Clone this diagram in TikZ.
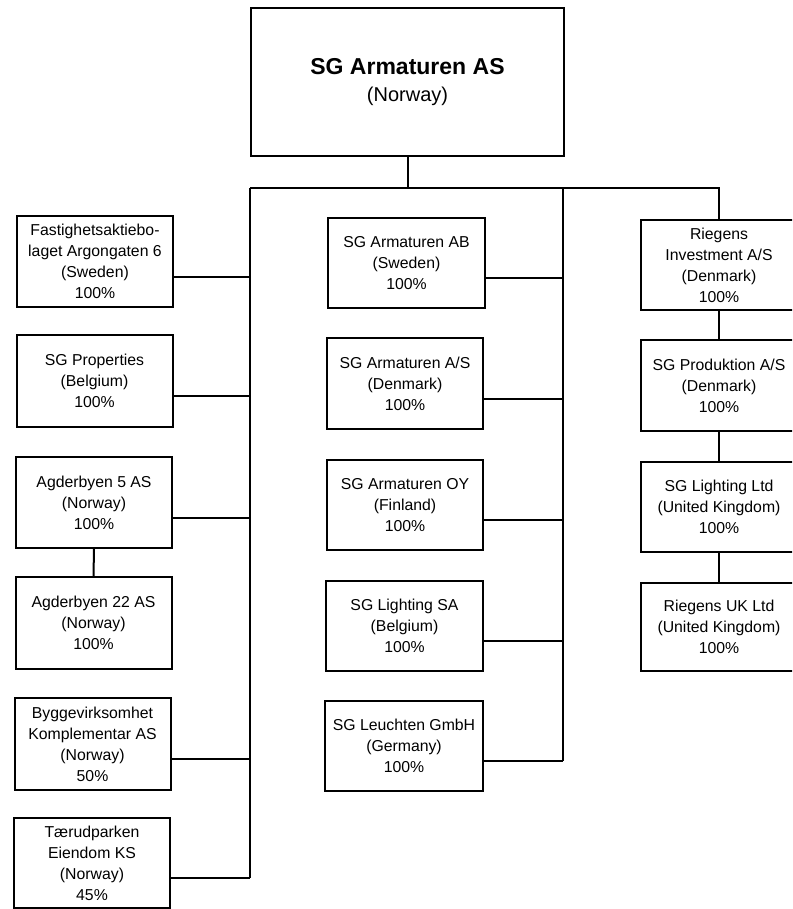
\documentclass[tikz,border=0pt]{standalone}
\usepackage{fontspec}
\setmainfont{Liberation Sans}
\begin{document}
\begin{tikzpicture}[x=1pt,y=-1pt,
  box/.style={draw, line width=2pt, minimum width=156pt, minimum height=91pt,
    align=center, inner sep=1pt, font=\fontsize{15.8}{21}\selectfont},
  topbox/.style={draw, line width=2pt, minimum width=313pt, minimum height=148pt,
    align=center, inner sep=1pt, font=\fontsize{20}{27}\selectfont},
  link/.style={line width=2pt}]
\useasboundingbox (0,0) rectangle (792,909);
\clip (0,0) rectangle (792,909);

% top
\node[topbox] (top) at (407.5,82) {{\fontsize{23}{27}\selectfont\bfseries SG Armaturen AS}\\(Norway)};

% left column
\node[box] (f1) at (95,261.5) {Fastighetsaktiebo-\\laget Argongaten 6\\(Sweden)\\100\%};
\node[box,minimum height=92pt] (f2) at (94.5,381) {SG Properties\\(Belgium)\\100\%};
\node[box] (f3) at (94,502.5) {Agderbyen 5 AS\\(Norway)\\100\%};
\node[box,minimum height=92pt] (f4) at (93.5,623) {Agderbyen 22 AS\\(Norway)\\100\%};
\node[box,minimum height=92pt] (f5) at (92.5,744) {Byggevirksomhet\\Komplementar AS\\(Norway)\\50\%};
\node[box,minimum height=90pt] (f6) at (92,863) {Tærudparken\\Eiendom KS\\(Norway)\\45\%};

% middle column
\node[box,minimum width=157pt,minimum height=90pt] (m1) at (406.5,263) {SG Armaturen AB\\(Sweden)\\100\%};
\node[box] (m2) at (405,383.5) {SG Armaturen A/S\\(Denmark)\\100\%};
\node[box,minimum height=90pt] (m3) at (405,505) {SG Armaturen OY\\(Finland)\\100\%};
\node[box,minimum width=157pt,minimum height=90pt] (m4) at (404.5,626) {SG Lighting SA\\(Belgium)\\100\%};
\node[box,minimum width=158pt,minimum height=90pt] (m5) at (404,746) {SG Leuchten GmbH\\(Germany)\\100\%};

% right column
\node[box,minimum height=90pt] (r1) at (719,265) {Riegens\\Investment A/S\\(Denmark)\\100\%};
\node[box] (r2) at (719,385.5) {SG Produktion A/S\\(Denmark)\\100\%};
\node[box,minimum height=90pt] (r3) at (719,507) {SG Lighting Ltd\\(United Kingdom)\\100\%};
\node[box,minimum height=88pt] (r4) at (719,627) {Riegens UK Ltd\\(United Kingdom)\\100\%};

% bus
\coordinate (bl) at (250,188);
\coordinate (bm) at (562.5,188);
\coordinate (br) at (719,188);

\draw[link] (top.south) -- (top.south |- bl);
\draw[link] (bl) -- (br) -- (r1.north);
\draw[link] (bl) -- ([yshift=-15pt]f6.east -| bl);
\draw[link] (bm) -- ([yshift=-15pt]m5.east -| bm);

\foreach \n in {f1,f2,f3,f5,f6}
  \draw[link] ([yshift=-15pt]\n.east) -- ([yshift=-15pt]\n.east -| bl);
\foreach \n in {m1,m2,m3,m4,m5}
  \draw[link] ([yshift=-15pt]\n.east) -- ([yshift=-15pt]\n.east -| bm);

\draw[link] (f3.south) -- (f4.north);
\draw[link] (r1.south) -- (r2.north);
\draw[link] (r2.south) -- (r3.north);
\draw[link] (r3.south) -- (r4.north);
\end{tikzpicture}
\end{document}
